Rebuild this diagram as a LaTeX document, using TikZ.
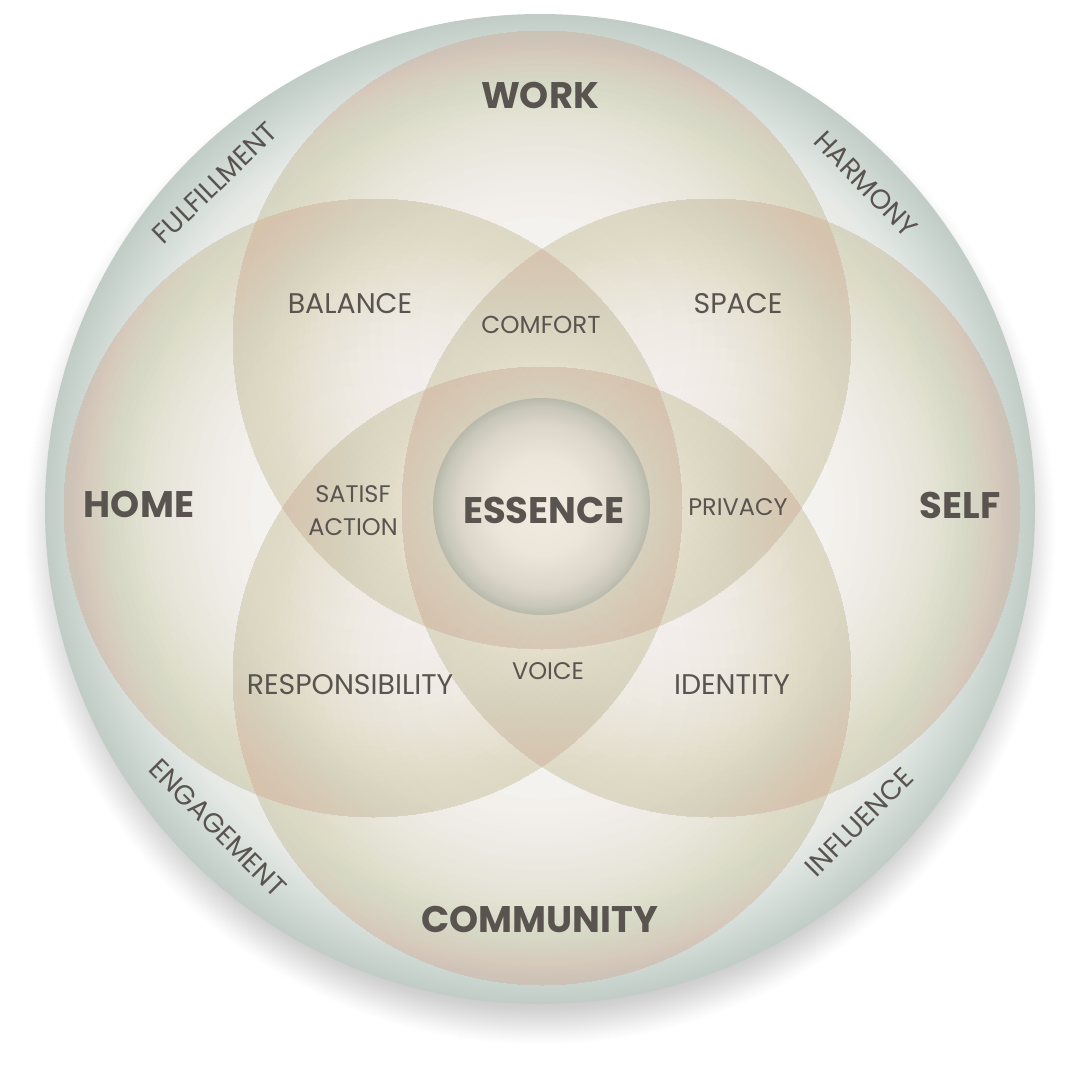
\documentclass[tikz,border=0pt]{standalone}
\usepackage{fontspec}
\setmainfont{Poppins}
\definecolor{txt}{RGB}{90,84,80}
\definecolor{petalc}{RGB}{214,195,158}
\definecolor{bg0}{RGB}{248,247,244}
\definecolor{bg1}{RGB}{245,244,240}
\definecolor{bg2}{RGB}{238,237,233}
\definecolor{bg3}{RGB}{230,233,229}
\definecolor{bg4}{RGB}{216,224,219}
\definecolor{bg5}{RGB}{203,213,208}
\definecolor{bg6}{RGB}{194,204,198}
\definecolor{sh0}{RGB}{198,198,198}
\definecolor{sh1}{RGB}{210,210,210}
\definecolor{sh2}{RGB}{230,230,230}
\definecolor{sh3}{RGB}{247,247,247}
\definecolor{es0}{RGB}{243,235,225}
\definecolor{es1}{RGB}{236,229,218}
\definecolor{es2}{RGB}{220,215,202}
\definecolor{es3}{RGB}{200,199,186}
\definecolor{es4}{RGB}{184,185,171}
\pgfdeclareradialshading{bgshade}{\pgfpointorigin}{color(0bp)=(bg0); color(15bp)=(bg1); color(20bp)=(bg2); color(21.5bp)=(bg3); color(22.75bp)=(bg4); color(24bp)=(bg5); color(25bp)=(bg6); color(50bp)=(bg6)}
\pgfdeclareradialshading{shadowshade}{\pgfpointorigin}{color(0bp)=(sh0); color(22.5bp)=(sh0); color(23.25bp)=(sh1); color(24bp)=(sh2); color(24.625bp)=(sh3); color(25bp)=(white); color(50bp)=(white)}
\pgfdeclareradialshading{essshade}{\pgfpointorigin}{color(0bp)=(es0); color(11.25bp)=(es1); color(18.75bp)=(es2); color(23bp)=(es3); color(25bp)=(es4); color(50bp)=(es4)}
\begin{document}
\begin{tikzpicture}[x=1pt,y=-1pt,
  lbl/.style={text=txt, inner sep=0pt},
  big/.style={lbl, font=\fontsize{37}{40}\selectfont\bfseries},
  mid/.style={lbl, font=\fontsize{28.4}{31}\selectfont},
  small/.style={lbl, font=\fontsize{24}{33}\selectfont, align=center},
  band/.style={lbl, font=\fontsize{27.5}{30}\selectfont},
  petal/.style={fill=petalc, fill opacity=0.025, even odd rule}]
\fill[white] (0,0) rectangle (1080,1080);
\useasboundingbox (0,0) rectangle (1080,1080);
\coordinate (O) at (540,509);
\coordinate (sh) at (540,529);
\shade[shading=shadowshade] (sh) circle (516);
\shade[shading=bgshade] (O) circle (495);
\foreach \cn/\cx/\cy in {work/542/340, home/373/508, self/711/508, comm/542/676}{
  \coordinate (\cn) at (\cx,\cy);
  \foreach \f in {0.30,0.40,0.48,0.52,0.56,0.60,0.63,0.66,0.69,0.71,0.73,0.75,0.77,0.79,0.81,0.83,0.85,0.87,0.89,0.91,0.94,0.97}{
    \fill[petal] (\cn) circle (309) (\cn) circle ({309*\f});
  }
}
\coordinate (ess) at (541.5,506.5);
\shade[shading=essshade] (ess) circle (108.5);
\node[big] (lwork) at (540,95) {WORK};
\node[big] (lhome) at (139,504) {HOME};
\node[big] (lself) at (960,505) {SELF};
\node[big] (lcomm) at (540,919) {COMMUNITY};
\node[big] (less) at (544,510) {ESSENCE};
\node[mid] (lbal) at (350,304) {BALANCE};
\node[mid] (lspace) at (738,304) {SPACE};
\node[small, font=\fontsize{24.5}{33}\selectfont] (lcomf) at (541,325) {COMFORT};
\node[small] (lsat) at (353,511) {SATISF\\ACTION};
\node[small] (lpriv) at (738,507) {PRIVACY};
\node[mid] (lresp) at (350,685) {RESPONSIBILITY};
\node[small] (lvoice) at (548,671) {VOICE};
\node[mid] (lid) at (732,685) {IDENTITY};
\node[band, rotate=44] (lful) at (215,183) {FULFILLMENT};
\node[band, rotate=-46] (lharm) at (866,184) {HARMONY};
\node[band, rotate=-45] (leng) at (218,828) {ENGAGEMENT};
\node[band, rotate=45] (linf) at (859,822) {INFLUENCE};
\end{tikzpicture}
\end{document}
